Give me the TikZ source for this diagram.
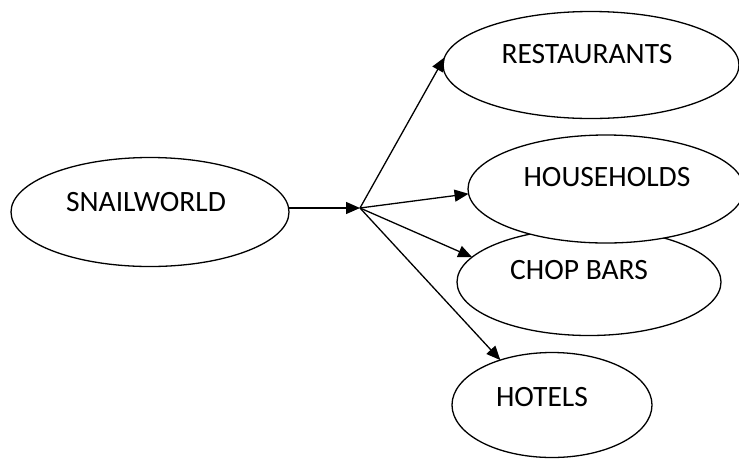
\documentclass[tikz,border=0pt]{standalone}
\usepackage{fontspec}
\setmainfont{Carlito}
\usetikzlibrary{shapes.geometric,arrows.meta}
\tikzset{
    oval/.style={draw, ellipse, line width=1.3pt, fill=white, inner sep=0pt, outer sep=0pt},
    lbl/.style={font=\fontsize{29.5}{33}\selectfont, inner sep=0pt},
    link/.style={line width=1.3pt, -{Triangle[length=14pt,width=12pt]}}
}
\begin{document}
\begin{tikzpicture}[x=1pt,y=-1pt]
        \useasboundingbox (0,0) rectangle (739,459);
        \node[oval, minimum width=278, minimum height=109] (snail) at (150,212) {};
        \node[oval, minimum width=296, minimum height=107] (rest) at (591,65) {};
        \node[oval, minimum width=264, minimum height=107] (chop) at (589,282) {};
        \node[oval, minimum width=276, minimum height=108] (house) at (606,189) {};
        \node[oval, minimum width=200, minimum height=105] (hotel) at (552,405) {};
        \node[lbl] (snailtxt) at (146,202) {SNAILWORLD};
        \node[lbl] (resttxt) at (587,54) {RESTAURANTS};
        \node[lbl] (housetxt) at (607,177) {HOUSEHOLDS};
        \node[lbl] (choptxt) at (579,270) {CHOP BARS};
        \node[lbl] (hoteltxt) at (542,397) {HOTELS};
        \coordinate (hub) at (360,208);
        \draw[link] (snail.east |- hub) -- (hub);
        \foreach \n/\a in {rest/177, house/182, chop/168, hotel/139} {
            \draw[link] (hub) -- (\n.\a);
        }
    \end{tikzpicture}
\end{document}
